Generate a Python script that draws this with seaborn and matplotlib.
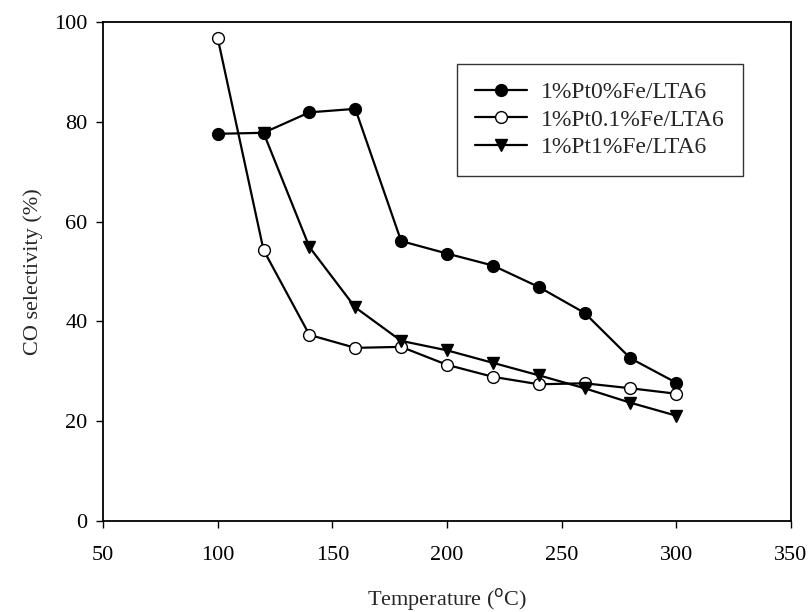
import matplotlib
matplotlib.use("Agg")
import matplotlib.pyplot as plt
import seaborn as sns
import pandas as pd

temp_a = [100, 120, 140, 160, 180, 200, 220, 240, 260, 280, 300]
sel_a = [77.6, 77.8, 81.9, 82.6, 56.1, 53.6, 51.2, 46.9, 41.7, 32.6, 27.7]
temp_b = [100, 120, 140, 160, 180, 200, 220, 240, 260, 280, 300]
sel_b = [96.8, 54.3, 37.3, 34.7, 34.9, 31.3, 28.9, 27.4, 27.6, 26.6, 25.5]
temp_c = [120, 140, 160, 180, 200, 220, 240, 260, 280, 300]
sel_c = [77.8, 54.9, 42.8, 36.1, 34.2, 31.7, 29.2, 26.6, 23.7, 21.1]
labels = ["1%Pt0%Fe/LTA6", "1%Pt0.1%Fe/LTA6", "1%Pt1%Fe/LTA6"]

sns.set_style("ticks")
plt.rcParams['font.family'] = ['Liberation Serif', 'DejaVu Serif']

fig = plt.figure(figsize=(8.08, 6.12), dpi=100)
ax = fig.add_axes([0.1275, 0.1487, 0.8515, 0.8153])

df_a = pd.DataFrame({"T": temp_a, "S": sel_a})
df_b = pd.DataFrame({"T": temp_b, "S": sel_b})
df_c = pd.DataFrame({"T": temp_c, "S": sel_c})

common = dict(color="black", linewidth=1.6, markersize=8.5, markeredgewidth=1.0,
              markeredgecolor="black", ax=ax)
sns.lineplot(data=df_a, x="T", y="S", marker="o", markerfacecolor="black",
             label=labels[0], **common)
sns.lineplot(data=df_b, x="T", y="S", marker="o", markerfacecolor="white",
             label=labels[1], **common)
sns.lineplot(data=df_c, x="T", y="S", marker="v", markerfacecolor="black",
             label=labels[2], **common)

ax.set_xlim(50, 350)
ax.set_ylim(0, 100)
ax.set_xticks(range(50, 351, 50))
ax.set_yticks(range(0, 101, 20))
ax.tick_params(direction="out", length=5, width=1, labelsize=16, colors="black")
ax.tick_params(axis="x", pad=13)
ax.tick_params(axis="y", pad=6)
for s in ax.spines.values():
    s.set_visible(True)
    s.set_linewidth(1.3)
    s.set_color("black")
ax.set_xlabel("Temperature ($^{\\rm o}$C)", fontsize=16, labelpad=15)
ax.set_ylabel("CO selectivity (%)", fontsize=16, labelpad=8)

leg = ax.legend(loc="upper left", bbox_to_anchor=(0.515, 0.916), borderaxespad=0,
                fontsize=17, frameon=True, fancybox=False, handlelength=2.2,
                borderpad=0.75, labelspacing=0.25, handletextpad=0.6)
leg.get_frame().set_edgecolor("black")
leg.get_frame().set_linewidth(1.0)

fig.savefig("out.png", dpi=100)
